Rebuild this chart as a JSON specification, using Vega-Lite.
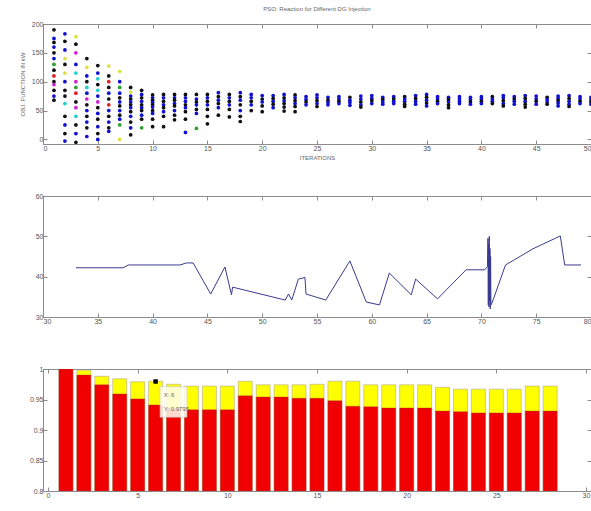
{
  "$schema": "https://vega.github.io/schema/vega-lite/v6.json",
  "background": "white",
  "padding": {"left": 18, "top": 5, "right": 3, "bottom": 5},
  "config": {
    "font": "Liberation Sans",
    "view": {"stroke": "#8c8c8c", "strokeWidth": 1},
    "axis": {"grid": false, "domain": false, "tickColor": "#8c8c8c", "tickSize": -4, "labelFontSize": 7, "labelColor": "#555", "labelPadding": 4, "titleFontSize": 6, "titleColor": "#666", "titleFontWeight": "normal", "labelOverlap": false},
    "title": {"fontSize": 6, "fontWeight": "normal", "color": "#666"}
  },
  "bounds": "flush",
  "spacing": 52,
  "datasets": {
    "pso": [
      {"i":1,"v":190,"c":"k"},{"i":1,"v":175,"c":"b"},{"i":1,"v":168,"c":"k"},{"i":1,"v":160,"c":"b"},{"i":1,"v":150,"c":"k"},{"i":1,"v":140,"c":"b"},{"i":1,"v":130,"c":"g"},{"i":1,"v":120,"c":"k"},{"i":1,"v":110,"c":"r"},{"i":1,"v":100,"c":"k"},{"i":1,"v":95,"c":"m"},{"i":1,"v":85,"c":"k"},{"i":1,"v":75,"c":"b"},{"i":1,"v":68,"c":"k"},
      {"i":2,"v":183,"c":"b"},{"i":2,"v":170,"c":"k"},{"i":2,"v":155,"c":"b"},{"i":2,"v":140,"c":"y"},{"i":2,"v":130,"c":"k"},{"i":2,"v":115,"c":"y"},{"i":2,"v":100,"c":"b"},{"i":2,"v":85,"c":"k"},{"i":2,"v":75,"c":"k"},{"i":2,"v":62,"c":"c"},{"i":2,"v":40,"c":"k"},{"i":2,"v":25,"c":"b"},{"i":2,"v":10,"c":"k"},{"i":2,"v":-3,"c":"b"},
      {"i":3,"v":178,"c":"y"},{"i":3,"v":165,"c":"k"},{"i":3,"v":150,"c":"m"},{"i":3,"v":130,"c":"b"},{"i":3,"v":115,"c":"c"},{"i":3,"v":100,"c":"m"},{"i":3,"v":90,"c":"g"},{"i":3,"v":80,"c":"r"},{"i":3,"v":65,"c":"k"},{"i":3,"v":55,"c":"m"},{"i":3,"v":40,"c":"c"},{"i":3,"v":25,"c":"k"},{"i":3,"v":10,"c":"b"},{"i":3,"v":-5,"c":"k"},
      {"i":4,"v":140,"c":"k"},{"i":4,"v":125,"c":"y"},{"i":4,"v":110,"c":"b"},{"i":4,"v":100,"c":"k"},{"i":4,"v":90,"c":"c"},{"i":4,"v":80,"c":"b"},{"i":4,"v":70,"c":"m"},{"i":4,"v":60,"c":"k"},{"i":4,"v":50,"c":"b"},{"i":4,"v":40,"c":"k"},{"i":4,"v":30,"c":"b"},{"i":4,"v":20,"c":"k"},{"i":4,"v":5,"c":"b"},
      {"i":5,"v":128,"c":"k"},{"i":5,"v":115,"c":"b"},{"i":5,"v":105,"c":"c"},{"i":5,"v":95,"c":"k"},{"i":5,"v":85,"c":"c"},{"i":5,"v":75,"c":"b"},{"i":5,"v":65,"c":"m"},{"i":5,"v":55,"c":"k"},{"i":5,"v":45,"c":"b"},{"i":5,"v":35,"c":"k"},{"i":5,"v":22,"c":"b"},{"i":5,"v":10,"c":"k"},{"i":5,"v":0,"c":"b"},
      {"i":6,"v":127,"c":"y"},{"i":6,"v":110,"c":"k"},{"i":6,"v":100,"c":"r"},{"i":6,"v":90,"c":"k"},{"i":6,"v":80,"c":"b"},{"i":6,"v":70,"c":"k"},{"i":6,"v":60,"c":"r"},{"i":6,"v":50,"c":"b"},{"i":6,"v":40,"c":"k"},{"i":6,"v":30,"c":"b"},{"i":6,"v":20,"c":"k"},{"i":6,"v":14,"c":"b"},
      {"i":7,"v":118,"c":"y"},{"i":7,"v":100,"c":"b"},{"i":7,"v":90,"c":"g"},{"i":7,"v":80,"c":"b"},{"i":7,"v":72,"c":"k"},{"i":7,"v":65,"c":"b"},{"i":7,"v":58,"c":"k"},{"i":7,"v":50,"c":"b"},{"i":7,"v":42,"c":"k"},{"i":7,"v":35,"c":"b"},{"i":7,"v":25,"c":"g"},{"i":7,"v":0,"c":"y"},
      {"i":8,"v":90,"c":"k"},{"i":8,"v":82,"c":"y"},{"i":8,"v":75,"c":"b"},{"i":8,"v":70,"c":"k"},{"i":8,"v":65,"c":"b"},{"i":8,"v":60,"c":"k"},{"i":8,"v":55,"c":"b"},{"i":8,"v":48,"c":"k"},{"i":8,"v":40,"c":"b"},{"i":8,"v":30,"c":"k"},{"i":8,"v":20,"c":"b"},{"i":8,"v":8,"c":"k"},
      {"i":9,"v":85,"c":"k"},{"i":9,"v":78,"c":"b"},{"i":9,"v":72,"c":"k"},{"i":9,"v":66,"c":"b"},{"i":9,"v":60,"c":"k"},{"i":9,"v":55,"c":"b"},{"i":9,"v":50,"c":"k"},{"i":9,"v":42,"c":"b"},{"i":9,"v":35,"c":"k"},{"i":9,"v":20,"c":"g"},
      {"i":10,"v":77,"c":"k"},{"i":10,"v":72,"c":"b"},{"i":10,"v":68,"c":"k"},{"i":10,"v":64,"c":"b"},{"i":10,"v":60,"c":"k"},{"i":10,"v":56,"c":"b"},{"i":10,"v":50,"c":"k"},{"i":10,"v":45,"c":"b"},{"i":10,"v":35,"c":"k"},{"i":10,"v":22,"c":"k"},
      {"i":11,"v":78,"c":"k"},{"i":11,"v":72,"c":"b"},{"i":11,"v":66,"c":"k"},{"i":11,"v":60,"c":"b"},{"i":11,"v":55,"c":"k"},{"i":11,"v":48,"c":"b"},{"i":11,"v":40,"c":"k"},{"i":11,"v":22,"c":"k"},
      {"i":12,"v":78,"c":"k"},{"i":12,"v":72,"c":"b"},{"i":12,"v":68,"c":"k"},{"i":12,"v":62,"c":"b"},{"i":12,"v":58,"c":"k"},{"i":12,"v":50,"c":"b"},{"i":12,"v":42,"c":"k"},{"i":12,"v":34,"c":"k"},
      {"i":13,"v":78,"c":"k"},{"i":13,"v":72,"c":"b"},{"i":13,"v":66,"c":"b"},{"i":13,"v":60,"c":"k"},{"i":13,"v":55,"c":"b"},{"i":13,"v":48,"c":"k"},{"i":13,"v":35,"c":"k"},{"i":13,"v":12,"c":"b"},
      {"i":14,"v":78,"c":"k"},{"i":14,"v":70,"c":"b"},{"i":14,"v":65,"c":"k"},{"i":14,"v":60,"c":"b"},{"i":14,"v":52,"c":"k"},{"i":14,"v":45,"c":"b"},{"i":14,"v":19,"c":"g"},
      {"i":15,"v":78,"c":"k"},{"i":15,"v":72,"c":"b"},{"i":15,"v":66,"c":"k"},{"i":15,"v":60,"c":"b"},{"i":15,"v":52,"c":"k"},{"i":15,"v":40,"c":"k"},{"i":15,"v":27,"c":"k"},
      {"i":16,"v":81,"c":"b"},{"i":16,"v":74,"c":"k"},{"i":16,"v":68,"c":"b"},{"i":16,"v":62,"c":"k"},{"i":16,"v":55,"c":"b"},{"i":16,"v":42,"c":"k"},
      {"i":17,"v":78,"c":"k"},{"i":17,"v":72,"c":"b"},{"i":17,"v":66,"c":"k"},{"i":17,"v":60,"c":"b"},{"i":17,"v":52,"c":"k"},{"i":17,"v":39,"c":"k"},
      {"i":18,"v":81,"c":"b"},{"i":18,"v":74,"c":"k"},{"i":18,"v":68,"c":"b"},{"i":18,"v":60,"c":"k"},{"i":18,"v":50,"c":"b"},{"i":18,"v":40,"c":"k"},{"i":18,"v":31,"c":"k"},
      {"i":19,"v":78,"c":"b"},{"i":19,"v":72,"c":"b"},{"i":19,"v":66,"c":"k"},{"i":19,"v":60,"c":"b"},{"i":19,"v":50,"c":"k"},
      {"i":20,"v":76,"c":"b"},{"i":20,"v":70,"c":"k"},{"i":20,"v":65,"c":"b"},{"i":20,"v":58,"c":"k"},{"i":20,"v":48,"c":"k"},
      {"i":21,"v":76,"c":"b"},{"i":21,"v":71,"c":"k"},{"i":21,"v":66,"c":"b"},{"i":21,"v":61,"c":"k"},{"i":21,"v":55,"c":"b"},
      {"i":22,"v":78,"c":"b"},{"i":22,"v":72,"c":"k"},{"i":22,"v":67,"c":"b"},{"i":22,"v":62,"c":"k"},{"i":22,"v":56,"c":"k"},{"i":22,"v":49,"c":"k"},
      {"i":23,"v":77,"c":"k"},{"i":23,"v":72,"c":"b"},{"i":23,"v":67,"c":"k"},{"i":23,"v":62,"c":"b"},{"i":23,"v":57,"c":"k"},{"i":23,"v":48,"c":"k"},
      {"i":24,"v":74,"c":"b"},{"i":24,"v":69,"c":"b"},{"i":24,"v":65,"c":"k"},{"i":24,"v":60,"c":"b"},
      {"i":25,"v":77,"c":"b"},{"i":25,"v":72,"c":"b"},{"i":25,"v":67,"c":"k"},{"i":25,"v":62,"c":"b"},{"i":25,"v":57,"c":"k"},
      {"i":26,"v":73,"c":"b"},{"i":26,"v":68,"c":"k"},{"i":26,"v":64,"c":"b"},{"i":26,"v":60,"c":"b"},
      {"i":27,"v":74,"c":"b"},{"i":27,"v":70,"c":"b"},{"i":27,"v":66,"c":"k"},{"i":27,"v":62,"c":"b"},
      {"i":28,"v":73,"c":"k"},{"i":28,"v":68,"c":"b"},{"i":28,"v":64,"c":"b"},{"i":28,"v":59,"c":"b"},
      {"i":29,"v":75,"c":"b"},{"i":29,"v":70,"c":"b"},{"i":29,"v":65,"c":"k"},{"i":29,"v":60,"c":"b"},{"i":29,"v":56,"c":"k"},
      {"i":30,"v":76,"c":"b"},{"i":30,"v":71,"c":"b"},{"i":30,"v":67,"c":"k"},{"i":30,"v":62,"c":"b"},
      {"i":31,"v":73,"c":"b"},{"i":31,"v":69,"c":"k"},{"i":31,"v":65,"c":"b"},{"i":31,"v":61,"c":"b"},
      {"i":32,"v":74,"c":"b"},{"i":32,"v":70,"c":"k"},{"i":32,"v":66,"c":"b"},{"i":32,"v":62,"c":"b"},
      {"i":33,"v":74,"c":"k"},{"i":33,"v":70,"c":"b"},{"i":33,"v":66,"c":"b"},{"i":33,"v":61,"c":"k"},{"i":33,"v":57,"c":"k"},
      {"i":34,"v":76,"c":"b"},{"i":34,"v":71,"c":"k"},{"i":34,"v":66,"c":"b"},{"i":34,"v":61,"c":"b"},
      {"i":35,"v":78,"c":"b"},{"i":35,"v":73,"c":"k"},{"i":35,"v":68,"c":"b"},{"i":35,"v":63,"c":"k"},{"i":35,"v":58,"c":"b"},
      {"i":36,"v":74,"c":"b"},{"i":36,"v":70,"c":"b"},{"i":36,"v":66,"c":"k"},{"i":36,"v":62,"c":"b"},
      {"i":37,"v":73,"c":"b"},{"i":37,"v":69,"c":"k"},{"i":37,"v":65,"c":"b"},{"i":37,"v":60,"c":"k"},{"i":37,"v":55,"c":"k"},
      {"i":38,"v":74,"c":"b"},{"i":38,"v":70,"c":"b"},{"i":38,"v":66,"c":"b"},{"i":38,"v":62,"c":"b"},
      {"i":39,"v":73,"c":"b"},{"i":39,"v":69,"c":"b"},{"i":39,"v":65,"c":"k"},{"i":39,"v":61,"c":"b"},
      {"i":40,"v":74,"c":"b"},{"i":40,"v":70,"c":"b"},{"i":40,"v":66,"c":"k"},{"i":40,"v":62,"c":"b"},
      {"i":41,"v":74,"c":"k"},{"i":41,"v":70,"c":"b"},{"i":41,"v":66,"c":"b"},{"i":41,"v":62,"c":"k"},
      {"i":42,"v":76,"c":"b"},{"i":42,"v":72,"c":"b"},{"i":42,"v":67,"c":"k"},{"i":42,"v":62,"c":"b"},{"i":42,"v":58,"c":"k"},
      {"i":43,"v":74,"c":"b"},{"i":43,"v":70,"c":"k"},{"i":43,"v":66,"c":"b"},{"i":43,"v":61,"c":"b"},
      {"i":44,"v":76,"c":"b"},{"i":44,"v":71,"c":"k"},{"i":44,"v":66,"c":"b"},{"i":44,"v":61,"c":"k"},{"i":44,"v":56,"c":"k"},
      {"i":45,"v":75,"c":"b"},{"i":45,"v":70,"c":"b"},{"i":45,"v":66,"c":"k"},{"i":45,"v":61,"c":"b"},
      {"i":46,"v":73,"c":"k"},{"i":46,"v":69,"c":"b"},{"i":46,"v":65,"c":"b"},{"i":46,"v":61,"c":"k"},
      {"i":47,"v":75,"c":"b"},{"i":47,"v":71,"c":"b"},{"i":47,"v":67,"c":"k"},{"i":47,"v":63,"c":"b"},{"i":47,"v":58,"c":"b"},
      {"i":48,"v":76,"c":"b"},{"i":48,"v":71,"c":"k"},{"i":48,"v":66,"c":"b"},{"i":48,"v":61,"c":"b"},{"i":48,"v":57,"c":"k"},
      {"i":49,"v":74,"c":"b"},{"i":49,"v":70,"c":"b"},{"i":49,"v":66,"c":"k"},{"i":49,"v":62,"c":"b"},
      {"i":50,"v":73,"c":"b"},{"i":50,"v":69,"c":"b"},{"i":50,"v":65,"c":"k"},{"i":50,"v":61,"c":"b"}
    ],
    "line": [
      {"x":33.0,"y":42.2},{"x":37.3,"y":42.2},{"x":37.8,"y":42.9},{"x":42.5,"y":42.9},{"x":43.1,"y":43.4},{"x":43.7,"y":43.4},
      {"x":45.3,"y":35.7},{"x":46.6,"y":42.4},{"x":47.2,"y":35.5},{"x":47.3,"y":37.4},{"x":52.1,"y":34.2},{"x":52.4,"y":35.7},
      {"x":52.7,"y":34.2},{"x":53.3,"y":39.4},{"x":53.9,"y":39.8},{"x":54.0,"y":35.7},{"x":55.8,"y":34.2},{"x":58.0,"y":43.9},
      {"x":59.5,"y":33.7},{"x":60.7,"y":33.0},{"x":61.6,"y":40.9},{"x":63.6,"y":35.5},{"x":64.0,"y":39.4},{"x":66.0,"y":34.5},
      {"x":68.6,"y":41.7},{"x":70.3,"y":41.7},{"x":70.55,"y":42.5},{"x":70.6,"y":49.5},{"x":70.63,"y":33.0},{"x":70.66,"y":48.0},
      {"x":70.69,"y":32.5},{"x":70.72,"y":50.0},{"x":70.75,"y":34.0},{"x":70.78,"y":47.0},{"x":70.81,"y":32.0},{"x":70.84,"y":45.0},
      {"x":70.87,"y":33.0},{"x":71.0,"y":33.7},{"x":72.2,"y":42.9},{"x":74.7,"y":46.9},{"x":77.2,"y":50.1},{"x":77.6,"y":42.9},
      {"x":79.1,"y":42.9}
    ],
    "bars": [
      {"n":1,"r":1.0,"t":1.0},{"n":2,"r":0.990,"t":0.998},{"n":3,"r":0.974,"t":0.988},{"n":4,"r":0.959,"t":0.984},
      {"n":5,"r":0.951,"t":0.979},{"n":6,"r":0.941,"t":0.980},{"n":7,"r":0.935,"t":0.975},{"n":8,"r":0.933,"t":0.972},
      {"n":9,"r":0.933,"t":0.972},{"n":10,"r":0.933,"t":0.972},{"n":11,"r":0.956,"t":0.980},{"n":12,"r":0.954,"t":0.974},
      {"n":13,"r":0.954,"t":0.974},{"n":14,"r":0.952,"t":0.974},{"n":15,"r":0.952,"t":0.975},{"n":16,"r":0.948,"t":0.980},
      {"n":17,"r":0.939,"t":0.980},{"n":18,"r":0.938,"t":0.974},{"n":19,"r":0.936,"t":0.974},{"n":20,"r":0.936,"t":0.974},
      {"n":21,"r":0.936,"t":0.974},{"n":22,"r":0.931,"t":0.970},{"n":23,"r":0.930,"t":0.967},{"n":24,"r":0.928,"t":0.967},
      {"n":25,"r":0.928,"t":0.967},{"n":26,"r":0.928,"t":0.967},{"n":27,"r":0.931,"t":0.972},{"n":28,"r":0.931,"t":0.972}
    ],
    "tip": [{"x":6.0,"y":0.9795,"x1":6.25,"x2":7.75,"y1":0.971,"y2":0.921,"l1":"X: 6","l2":"Y: 0.9795","ly1":0.957,"ly2":0.934,"lx":6.45}]
  },
  "vconcat": [
    {
      "width": 548, "height": 120,
      "title": {"text": "PSO: Reaction for Different DG Injection", "offset": 8},
      "data": {"name": "pso"},
      "resolve": {"axis": {"x": "independent", "y": "independent"}},
      "layer": [
        {
          "mark": {"type": "circle", "size": 14, "opacity": 1},
          "encoding": {
            "x": {"field": "i", "type": "quantitative", "scale": {"domain": [0, 50], "nice": false}, "axis": {"orient": "bottom", "values": [0,5,10,15,20,25,30,35,40,45,50], "title": "ITERATIONS", "titlePadding": 3}},
            "y": {"field": "v", "type": "quantitative", "scale": {"domain": [-8, 200], "nice": false}, "axis": {"orient": "left", "values": [0,50,100,150,200], "title": "OBJ. FUNCTION IN kW", "titlePadding": 6}},
            "color": {"field": "c", "type": "nominal", "legend": null, "scale": {"domain": ["b","g","r","c","m","y","k"], "range": ["#1010d0","#30a030","#e02020","#20d0d0","#d020d0","#e0e040","#101010"]}}
          }
        },
        {
          "mark": {"type": "circle", "size": 1, "opacity": 0},
          "encoding": {
            "x": {"field": "i", "type": "quantitative", "axis": {"orient": "top", "values": [0,5,10,15,20,25,30,35,40,45,50], "labels": false, "title": null}},
            "y": {"field": "v", "type": "quantitative", "axis": {"orient": "right", "values": [0,50,100,150,200], "labels": false, "title": null}}
          }
        }
      ]
    },
    {
      "width": 548, "height": 121,
      "data": {"name": "line"},
      "resolve": {"axis": {"x": "independent", "y": "independent"}},
      "layer": [
        {
          "mark": {"type": "line", "color": "#3a3a90", "strokeWidth": 1},
          "encoding": {
            "x": {"field": "x", "type": "quantitative", "scale": {"domain": [30, 80], "nice": false}, "axis": {"orient": "bottom", "values": [30,35,40,45,50,55,60,65,70,75,80], "title": null}},
            "y": {"field": "y", "type": "quantitative", "scale": {"domain": [30, 60], "nice": false}, "axis": {"orient": "left", "values": [30,40,50,60], "title": null}}
          }
        },
        {
          "mark": {"type": "point", "size": 1, "opacity": 0},
          "encoding": {
            "x": {"field": "x", "type": "quantitative", "axis": {"orient": "top", "values": [30,35,40,45,50,55,60,65,70,75,80], "labels": false, "title": null}},
            "y": {"field": "y", "type": "quantitative", "axis": {"orient": "right", "values": [30,40,50,60], "labels": false, "title": null}}
          }
        }
      ]
    },
    {
      "width": 548, "height": 122,
      "data": {"name": "bars"},
      "resolve": {"axis": {"x": "independent", "y": "independent"}},
      "layer": [
        {
          "mark": {"type": "bar", "color": "#ffff00", "size": 14, "stroke": "#b0a890", "strokeWidth": 0.6, "clip": true},
          "encoding": {
            "x": {"field": "n", "type": "quantitative", "scale": {"domain": [0, 30], "nice": false}, "axis": {"orient": "bottom", "values": [0,5,10,15,20,25,30], "title": null}},
            "y": {"field": "t", "type": "quantitative", "scale": {"domain": [0.8, 1], "nice": false}, "axis": {"orient": "left", "values": [0.8,0.85,0.9,0.95,1], "format": ".2~f", "title": null}},
            "y2": {"datum": 0.8}
          }
        },
        {
          "mark": {"type": "bar", "color": "#f00000", "size": 14, "stroke": "#a04040", "strokeWidth": 0.4, "clip": true},
          "encoding": {
            "x": {"field": "n", "type": "quantitative", "axis": null},
            "y": {"field": "r", "type": "quantitative", "axis": null},
            "y2": {"datum": 0.8}
          }
        },
        {
          "mark": {"type": "point", "size": 1, "opacity": 0},
          "encoding": {
            "x": {"field": "n", "type": "quantitative", "axis": {"orient": "top", "values": [0,5,10,15,20,25,30], "labels": false, "title": null}},
            "y": {"field": "r", "type": "quantitative", "axis": {"orient": "right", "values": [0.8,0.85,0.9,0.95,1], "labels": false, "title": null}}
          }
        },
        {
          "data": {"name": "tip"},
          "mark": {"type": "rect", "fill": "#fffff2", "fillOpacity": 0.85, "stroke": "#c8c8c8", "strokeWidth": 0.6},
          "encoding": {
            "x": {"field": "x1", "type": "quantitative", "axis": null},
            "x2": {"field": "x2"},
            "y": {"field": "y1", "type": "quantitative", "axis": null},
            "y2": {"field": "y2"}
          }
        },
        {
          "data": {"name": "tip"},
          "mark": {"type": "square", "size": 20, "color": "#000", "opacity": 1},
          "encoding": {
            "x": {"field": "x", "type": "quantitative", "axis": null},
            "y": {"field": "y", "type": "quantitative", "axis": null}
          }
        },
        {
          "data": {"name": "tip"},
          "mark": {"type": "text", "fontSize": 6, "color": "#666", "align": "left"},
          "encoding": {
            "x": {"field": "lx", "type": "quantitative", "axis": null},
            "y": {"field": "ly1", "type": "quantitative", "axis": null},
            "text": {"field": "l1"}
          }
        },
        {
          "data": {"name": "tip"},
          "mark": {"type": "text", "fontSize": 6, "color": "#666", "align": "left"},
          "encoding": {
            "x": {"field": "lx", "type": "quantitative", "axis": null},
            "y": {"field": "ly2", "type": "quantitative", "axis": null},
            "text": {"field": "l2"}
          }
        }
      ]
    }
  ]
}
